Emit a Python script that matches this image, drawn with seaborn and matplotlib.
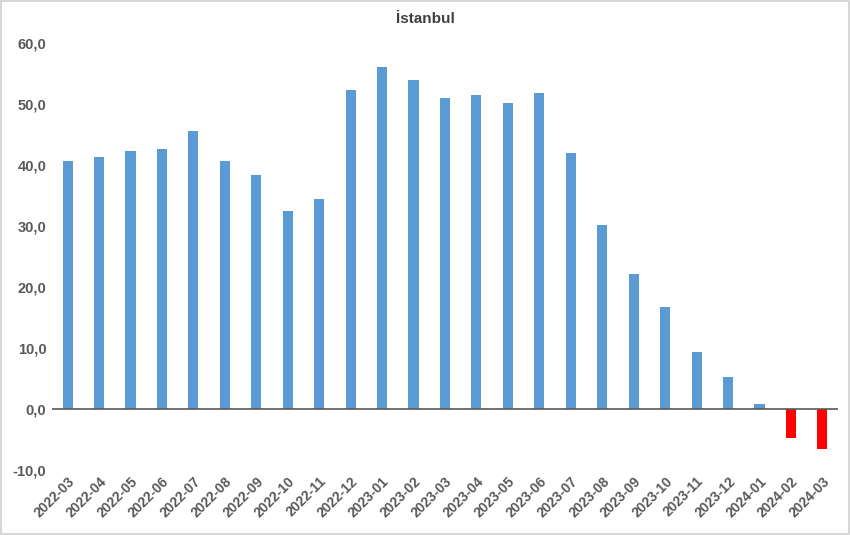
import numpy as np
import pandas as pd
import seaborn as sns
import matplotlib.pyplot as plt
from matplotlib.patches import Rectangle
from matplotlib.ticker import FuncFormatter

# aylar ve yıllık değişim değerleri (%)
months = ["2022-03", "2022-04", "2022-05", "2022-06", "2022-07", "2022-08",
          "2022-09", "2022-10", "2022-11", "2022-12", "2023-01", "2023-02",
          "2023-03", "2023-04", "2023-05", "2023-06", "2023-07", "2023-08",
          "2023-09", "2023-10", "2023-11", "2023-12", "2024-01", "2024-02",
          "2024-03"]
values = [40.6, 41.4, 42.3, 42.6, 45.6, 40.6, 38.4, 32.5, 34.4, 52.3, 56.0, 53.9,
          51.0, 51.5, 50.2, 51.8, 41.9, 30.2, 22.1, 16.8, 9.4, 5.2, 0.8, -4.7, -6.6]
y_ticks = [-10, 0, 10, 20, 30, 40, 50, 60]

df = pd.DataFrame({"month": months, "value": values})
df["sign"] = np.where(df["value"] >= 0, "pos", "neg")

sns.set_style("white")
plt.rcParams["font.family"] = ["Liberation Sans", "DejaVu Sans"]

fig = plt.figure(figsize=(8.5, 5.35), dpi=100)
ax = fig.add_axes([0.061, 0.1215, 0.925, 0.798])

sns.barplot(data=df, x="month", y="value", hue="sign",
            palette={"pos": "#5B9BD5", "neg": "#FF0000"}, saturation=1,
            dodge=False, width=0.32, legend=False, ax=ax, linewidth=0)

ax.set_xlim(-0.5, len(months) - 0.5)
ax.set_ylim(-10, 60)
ax.set_yticks(y_ticks)
ax.yaxis.set_major_formatter(FuncFormatter(lambda v, p: f"{v:.1f}".replace(".", ",")))
ax.axhline(0, color="#595959", lw=1.2, zorder=3)

for s in ax.spines.values():
    s.set_visible(False)
ax.tick_params(axis="both", length=0, colors="#595959", labelsize=10)
ax.tick_params(axis="y", pad=4, labelsize=10.5)
ax.tick_params(axis="x", pad=3)
for lbl in ax.get_yticklabels():
    lbl.set_fontweight("bold")
for lbl in ax.get_xticklabels():
    lbl.set_fontweight("bold")
    lbl.set_rotation(45)
    lbl.set_ha("right")
    lbl.set_rotation_mode("anchor")
ax.set_xlabel("")
ax.set_ylabel("")

fig.suptitle("İstanbul", x=0.5, y=0.978, fontsize=11, fontweight="bold", color="#404040")

fig.patches.append(Rectangle((0.001, 0.001), 0.998, 0.997, transform=fig.transFigure,
                             fill=False, edgecolor="#D0D0D0", lw=1.2))

fig.savefig("out.png", dpi=100)
